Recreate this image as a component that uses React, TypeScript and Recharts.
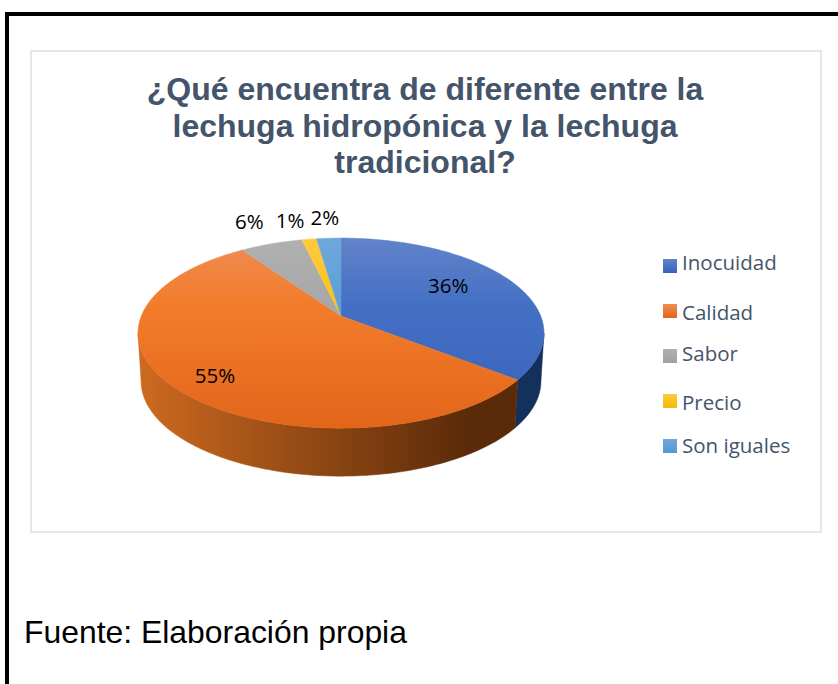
import { PieChart, Pie, Cell, Legend } from 'recharts'

const categories = ['Inocuidad', 'Calidad', 'Sabor', 'Precio', 'Son iguales']
// Slice sizes; the printed labels are these rounded
const shares = [35.6, 54.8, 5.9, 1.4, 2.3]
const titleLines = [
  '¿Qué encuentra de diferente entre la',
  'lechuga hidropónica y la lechuga',
  'tradicional?',
]

// Top face gradients: top edge, upper body, front edge
const TOP_COLORS = [
  ['#6283ca', '#4470c4', '#3563bb'],
  ['#ee8d54', '#f37c2c', '#e2661a'],
  ['#b0b0b0', '#a8a8a8', '#a0a0a0'],
  ['#ffc93f', '#fcc21c', '#f5bb00'],
  ['#6fa8dc', '#5d9fd8', '#5497d2'],
]
const WALL_COLORS = [
  ['#12294f', '#14305c'],
  ['#cd6a20', '#5a2a09'],
  ['#666666', '#666666'],
  ['#997300', '#997300'],
  ['#2e75b6', '#2e75b6'],
]

const CX = 341
const APEX_Y = 316
const RADIUS = 203
const DEPTH = 48
const PERSPECTIVE = 0.18
const Y_SCALE = 0.453
const X_NORM = Math.sqrt(1 - PERSPECTIVE * PERSPECTIVE)
const FRONT_LIMIT = Math.acos(-PERSPECTIVE)

// Label placement relative to the projected slice
const LABEL_FACTORS = [0.62, 0.76, 1, 1, 1]
const LABEL_OFFSETS = [
  [1, -7],
  [-4, 6],
  [-22, -23],
  [-19, -19],
  [-4, -21],
]
// Legend text baselines are not evenly spaced in the original
const LEGEND_TEXT_TOPS = [248, 298, 339, 388, 431]
const LEGEND_SWATCH_TOPS = [259, 304, 349, 394, 439]

const chartData = categories.map((name, i) => ({ name, value: shares[i] }))

// angle is clockwise from 12 o'clock, in radians
function project(cx: number, cy: number, r: number, f: number, angle: number) {
  const d = 1 + PERSPECTIVE * f * Math.cos(angle)
  return {
    x: cx + (r * X_NORM * f * Math.sin(angle)) / d,
    y: cy - (r * Y_SCALE * f * Math.cos(angle)) / d,
  }
}

function arcAngles(from: number, to: number) {
  const steps = Math.max(2, Math.ceil(((to - from) * 180) / Math.PI))
  const out: number[] = []
  for (let i = 0; i <= steps; i++) out.push(from + ((to - from) * i) / steps)
  return out
}

function toPath(points: { x: number; y: number }[]) {
  return points.map((p, i) => `${i ? 'L' : 'M'}${p.x.toFixed(2)} ${p.y.toFixed(2)}`).join(' ') + ' Z'
}

function Slice3D(props: any) {
  const { cx, cy, outerRadius, startAngle, endAngle, index } = props
  const from = ((90 - startAngle) * Math.PI) / 180
  const to = ((90 - endAngle) * Math.PI) / 180
  const rim = arcAngles(from, to).map((a) => project(cx, cy, outerRadius, 1, a))
  const topPath = toPath([{ x: cx, y: cy }, ...rim])

  const wallFrom = Math.max(from, FRONT_LIMIT)
  const wallTo = Math.min(to, Math.PI * 2 - FRONT_LIMIT)
  let wallPath = ''
  if (wallTo > wallFrom) {
    const upper = arcAngles(wallFrom, wallTo).map((a) => project(cx, cy, outerRadius, 1, a))
    const lower = upper.map((p) => ({ x: cx + (p.x - cx) * 0.985, y: p.y + DEPTH })).reverse()
    wallPath = toPath([...upper, ...lower])
  }
  const topId = `top-${index}`
  const wallId = `wall-${index}`
  return (
    <g>
      <defs>
        <linearGradient id={topId} gradientUnits="userSpaceOnUse" x1="0" y1="238" x2="0" y2="428">
          <stop offset="0" stopColor={TOP_COLORS[index][0]} />
          <stop offset="0.35" stopColor={TOP_COLORS[index][1]} />
          <stop offset="1" stopColor={TOP_COLORS[index][2]} />
        </linearGradient>
        <linearGradient id={wallId} gradientUnits="userSpaceOnUse" x1="140" y1="0" x2="470" y2="0">
          <stop offset="0" stopColor={WALL_COLORS[index][0]} />
          <stop offset="1" stopColor={WALL_COLORS[index][1]} />
        </linearGradient>
      </defs>
      {wallPath && <path d={wallPath} fill={`url(#${wallId})`} stroke={`url(#${wallId})`} strokeWidth={0.5} />}
      <path d={topPath} fill={`url(#${topId})`} stroke={`url(#${topId})`} strokeWidth={0.5} />
    </g>
  )
}

function renderLabel(props: any) {
  const { cx, cy, outerRadius, midAngle, index, value } = props
  const p = project(cx, cy, outerRadius, LABEL_FACTORS[index], ((90 - midAngle) * Math.PI) / 180)
  return (
    <text
      x={p.x + LABEL_OFFSETS[index][0]}
      y={p.y + LABEL_OFFSETS[index][1]}
      textAnchor="middle"
      dominantBaseline="central"
      fontFamily="'Open Sans', sans-serif"
      fontSize={20.5}
      fill="#000000"
    >
      {Math.round(value)}%
    </text>
  )
}

function LegendList() {
  return (
    <div>
      {categories.map((name, i) => (
        <div key={name}>
          <div
            style={{
              position: 'absolute',
              left: 663,
              top: LEGEND_SWATCH_TOPS[i],
              width: 14,
              height: 14,
              background: `linear-gradient(${TOP_COLORS[i][0]}, ${TOP_COLORS[i][2]})`,
            }}
          />
          <div
            style={{
              position: 'absolute',
              left: 682,
              top: LEGEND_TEXT_TOPS[i],
              fontFamily: "'Open Sans', sans-serif",
              fontSize: 20.5,
              lineHeight: '28px',
              color: '#44546a',
              whiteSpace: 'nowrap',
            }}
          >
            {name}
          </div>
        </div>
      ))}
    </div>
  )
}

export default function App() {
  return (
    <div style={{ position: 'absolute', left: 0, top: 0, width: 838, height: 684, overflow: 'hidden', background: '#fff' }}>
      <div style={{ position: 'absolute', left: 5, top: 12, right: 0, height: 4, background: '#000' }} />
      <div style={{ position: 'absolute', left: 5, top: 12, bottom: 0, width: 4, background: '#000' }} />
      <div
        style={{
          position: 'absolute',
          left: 30,
          top: 50,
          width: 788,
          height: 479,
          border: '2px solid #e2e6ee',
        }}
      />
      <div style={{ position: 'absolute', left: 0, top: 0 }}>
        <PieChart width={838} height={684} margin={{ top: 0, right: 0, bottom: 0, left: 0 }}>
          <Legend content={<LegendList />} wrapperStyle={{ left: 0, top: 0, width: 0, height: 0 }} />
          <Pie
            data={chartData}
            dataKey="value"
            nameKey="name"
            cx={CX}
            cy={APEX_Y}
            innerRadius={0}
            outerRadius={RADIUS}
            startAngle={90}
            endAngle={-270}
            paddingAngle={0}
            stroke="none"
            shape={Slice3D}
            label={renderLabel}
            labelLine={false}
            isAnimationActive={false}
          >
            {chartData.map((d, i) => (
              <Cell key={d.name} fill={TOP_COLORS[i][2]} />
            ))}
          </Pie>
        </PieChart>
      </div>
      <div
        style={{
          position: 'absolute',
          left: 30,
          top: 71,
          width: 790,
          textAlign: 'center',
          fontFamily: "'Liberation Sans', Arial, sans-serif",
          fontWeight: 700,
          fontSize: 32,
          lineHeight: '36.5px',
          color: '#44546a',
        }}
      >
        {titleLines.map((line) => (
          <div key={line}>{line}</div>
        ))}
      </div>
      <div
        style={{
          position: 'absolute',
          left: 24,
          top: 612,
          fontFamily: "'Liberation Sans', Arial, sans-serif",
          fontSize: 31.9,
          lineHeight: '40px',
          color: '#000',
          whiteSpace: 'nowrap',
        }}
      >
        Fuente: Elaboración propia
      </div>
    </div>
  )
}
